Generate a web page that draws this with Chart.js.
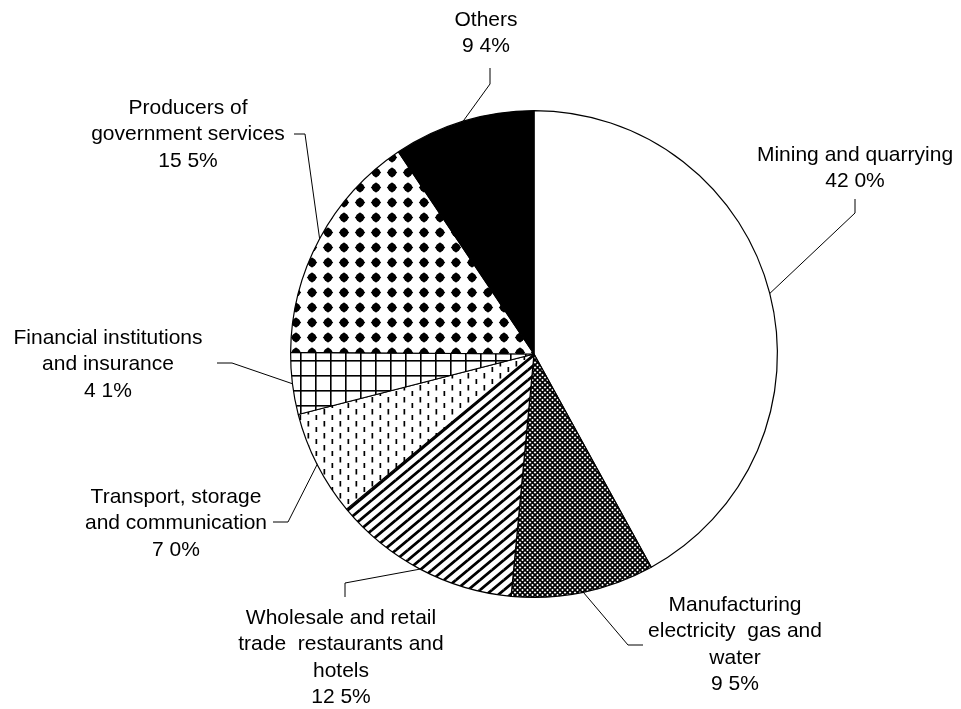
<!DOCTYPE html>
<html>
<head>
<meta charset="utf-8">
<script src="https://cdn.jsdelivr.net/npm/chart.js@4.4.0/dist/chart.umd.min.js"></script>
<style>
  html, body { margin: 0; padding: 0; background: #fff; }
  #pie { display: block; }
</style>
</head>
<body>
<canvas id="pie" width="961" height="709"></canvas>
<script>
// slice names (one entry per text line) and shares, clockwise from 12 o'clock
var categories = [
  ["Mining and quarrying"],
  ["Manufacturing", "electricity  gas and", "water"],
  ["Wholesale and retail", "trade  restaurants and", "hotels"],
  ["Transport, storage", "and communication"],
  ["Financial institutions", "and insurance"],
  ["Producers of", "government services"],
  ["Others"]
];
var shares = [42.0, 9.5, 12.5, 7.0, 4.1, 15.5, 9.4];
var shareLabels = ["42 0%", "9 5%", "12 5%", "7 0%", "4 1%", "15 5%", "9 4%"];

// where each callout text sits, and the bend / end of its leader line
var labelLayout = [
  { x: 855, y: 155, elbow: [855, 213], end: [855, 199] },
  { x: 735, y: 605, elbow: [628, 645], end: [643, 645] },
  { x: 341, y: 618, elbow: [345, 583], end: [345, 597] },
  { x: 176, y: 497, elbow: [288, 522], end: [273, 522] },
  { x: 108, y: 338, elbow: [232, 363], end: [217, 363] },
  { x: 188, y: 108, elbow: [305, 134], end: [294, 134] },
  { x: 486, y: 20,  elbow: [490, 84],  end: [490, 68] }
];

var canvas = document.getElementById("pie");
var ctx = canvas.getContext("2d");

function makeTile(w, h, draw) {
  var c = document.createElement("canvas");
  c.width = w;
  c.height = h;
  var g = c.getContext("2d");
  g.fillStyle = "#fff";
  g.fillRect(0, 0, w, h);
  g.strokeStyle = "#000";
  g.fillStyle = "#000";
  draw(g, w, h);
  return ctx.createPattern(c, "repeat");
}

// fine cross-hatch (diamond mesh)
var crossHatch = makeTile(5, 5, function (g, w, h) {
  g.lineWidth = 1.7;
  g.beginPath();
  g.moveTo(-1, -1); g.lineTo(w + 1, h + 1);
  g.moveTo(w + 1, -1); g.lineTo(-1, h + 1);
  g.stroke();
});

// "/" stripes
var stripes = makeTile(12, 10, function (g, w, h) {
  g.lineWidth = 2.8;
  g.beginPath();
  for (var dx = -1; dx <= 1; dx++) {
    for (var dy = -1; dy <= 1; dy++) {
      g.moveTo(dx * w, h + dy * h);
      g.lineTo(w + dx * w, dy * h);
    }
  }
  g.stroke();
});

// short vertical dashes
var dashes = makeTile(16, 12, function (g) {
  g.fillRect(3.5, 1, 1.7, 5.5);
  g.fillRect(11.5, 7, 1.7, 5.5);
});

// square grid
var grid = makeTile(15, 15, function (g, w, h) {
  g.fillRect(0, 0, w, 1.6);
  g.fillRect(0, 0, 1.6, h);
});

// black diamond dots
var dots = makeTile(16, 15, function (g) {
  g.beginPath();
  g.moveTo(8, 2.3);
  g.lineTo(13.2, 7.5);
  g.lineTo(8, 12.7);
  g.lineTo(2.8, 7.5);
  g.closePath();
  g.fill();
  g.beginPath();
  g.arc(8, 7.5, 4.2, 0, Math.PI * 2);
  g.fill();
});

var fills = ["#ffffff", crossHatch, stripes, dashes, grid, dots, "#000000"];

var calloutPlugin = {
  id: "callouts",
  afterDraw: function (chart) {
    var c = chart.ctx;
    var arcs = chart.getDatasetMeta(0).data;
    c.save();
    c.strokeStyle = "#000";
    c.lineWidth = 1;
    c.fillStyle = "#000";
    c.font = '21px "Liberation Sans", Arial, sans-serif';
    c.textAlign = "center";
    c.textBaseline = "middle";
    arcs.forEach(function (arc, i) {
      var p = arc.getProps(["x", "y", "startAngle", "endAngle", "outerRadius"], true);
      var mid = (p.startAngle + p.endAngle) / 2;
      var sx = p.x + Math.cos(mid) * p.outerRadius;
      var sy = p.y + Math.sin(mid) * p.outerRadius;
      var L = labelLayout[i];
      c.beginPath();
      c.moveTo(sx, sy);
      c.lineTo(L.elbow[0], L.elbow[1]);
      c.lineTo(L.end[0], L.end[1]);
      c.stroke();
      var lines = categories[i].concat([shareLabels[i]]);
      lines.forEach(function (t, k) {
        c.fillText(t, L.x, L.y + k * 26.5);
      });
    });
    c.restore();
  }
};

new Chart(canvas, {
  type: "pie",
  data: {
    labels: categories.map(function (l) { return l.join(" "); }),
    datasets: [
      {
        data: shares,
        backgroundColor: fills,
        borderColor: "#000",
        borderWidth: 1.2,
        hoverOffset: 0,
      },
    ],
  },
  options: {
    responsive: false,
    animation: false,
    layout: {
      padding: { left: 290, right: 183, top: 110, bottom: 111 },
    },
    plugins: {
      legend: { display: false },
      tooltip: { enabled: false },
      title: { display: false },
    },
  },
  plugins: [calloutPlugin],
});
</script>
</body>
</html>
